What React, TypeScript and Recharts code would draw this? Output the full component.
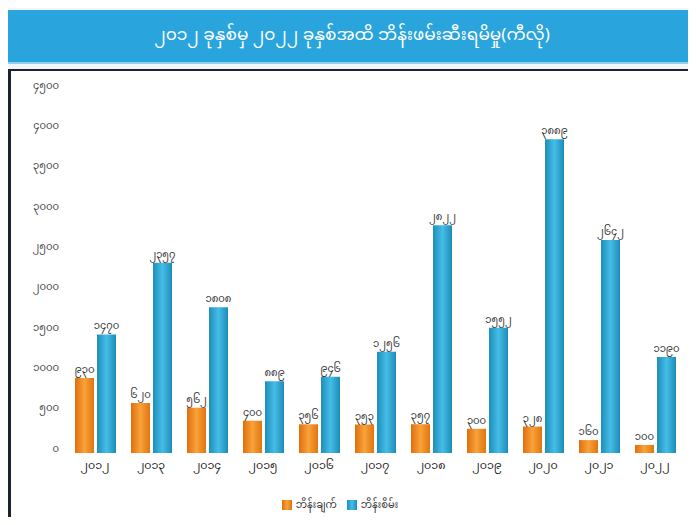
import React from 'react';
import { BarChart, Bar, XAxis, YAxis, Legend, LabelList } from 'recharts';

const years = ['၂၀၁၂', '၂၀၁၃', '၂၀၁၄', '၂၀၁၅', '၂၀၁၆', '၂၀၁၇', '၂၀၁၈', '၂၀၁၉', '၂၀၂၀', '၂၀၂၁', '၂၀၂၂'];
const cooked = [930, 620, 562, 400, 356, 353, 357, 300, 328, 160, 100];
const raw = [1470, 2357, 1808, 889, 946, 1256, 2822, 1552, 3889, 2642, 1190];
const yTicks = [0, 500, 1000, 1500, 2000, 2500, 3000, 3500, 4000, 4500];

const seriesNames = ['ဘိန်းချက်', 'ဘိန်းစိမ်း'];
const title = '၂၀၁၂ ခုနှစ်မှ ၂၀၂၂ ခုနှစ်အထိ ဘိန်းဖမ်းဆီးရမိမှု(ကီလို)';

const FONT = '"Noto Sans Myanmar", Padauk, "Myanmar Text", "Noto Sans", sans-serif';

// western digits -> Myanmar digits
const mm = (v: number | string) => String(v).replace(/[0-9]/g, (d) => String.fromCharCode(0x1040 + Number(d)));

const data = years.map((y, i) => ({ year: y, cooked: cooked[i], raw: raw[i] }));

export default function App() {
  return (
    <div style={{ margin: -8, width: 696, height: 525, position: 'relative', background: '#f3f5f7', fontFamily: FONT, overflow: 'hidden' }}>
      <div style={{ position: 'absolute', left: 8, top: 10, width: 688, height: 52, background: '#2aa4dc', borderBottom: '2px solid #8fd0ee', display: 'flex', alignItems: 'center', justifyContent: 'center', color: '#fff', fontSize: 17 }}>
        {title}
      </div>
      <div style={{ position: 'absolute', left: 8, top: 69, width: 684, height: 450, background: '#fff', borderTop: '2px solid #1c2330', borderLeft: '3px solid #1c2330', borderBottom: '2px solid #1c2330', borderRight: '1px solid #c9ccd0' }} />
      <div style={{ position: 'absolute', left: 0, top: 0 }}>
        <BarChart width={696} height={525} data={data} margin={{ top: 90, right: 13, bottom: 20, left: 7 }} barSize={19} barGap={3}>
          <defs>
            <linearGradient id="gOrange" x1="0" y1="0" x2="1" y2="0">
              <stop offset="0%" stopColor="#e06f0c" />
              <stop offset="50%" stopColor="#f9a23a" />
              <stop offset="100%" stopColor="#e27410" />
            </linearGradient>
            <linearGradient id="gBlue" x1="0" y1="0" x2="1" y2="0">
              <stop offset="0%" stopColor="#1d8fbd" />
              <stop offset="50%" stopColor="#45bde6" />
              <stop offset="100%" stopColor="#1c8cba" />
            </linearGradient>
          </defs>
          <XAxis dataKey="year" axisLine={false} tickLine={false} tick={{ fontSize: 11, fill: '#222', fontFamily: FONT }} height={30} />
          <YAxis domain={[0, 4500]} ticks={yTicks} tickFormatter={mm} axisLine={false} tickLine={false} width={60} tick={{ fontSize: 10, fill: '#444', fontFamily: FONT, dy: -5 }} />
          <Legend verticalAlign="bottom" iconType="square" iconSize={10} wrapperStyle={{ fontSize: 10, fontFamily: FONT, color: '#333', bottom: 8 }} />
          <Bar dataKey="cooked" name={seriesNames[0]} fill="url(#gOrange)" isAnimationActive={false}>
            <LabelList dataKey="cooked" position="top" formatter={mm} style={{ fontSize: 10, fill: '#333', fontFamily: FONT }} />
          </Bar>
          <Bar dataKey="raw" name={seriesNames[1]} fill="url(#gBlue)" isAnimationActive={false}>
            <LabelList dataKey="raw" position="top" formatter={mm} style={{ fontSize: 10, fill: '#333', fontFamily: FONT }} />
          </Bar>
        </BarChart>
      </div>
    </div>
  );
}
